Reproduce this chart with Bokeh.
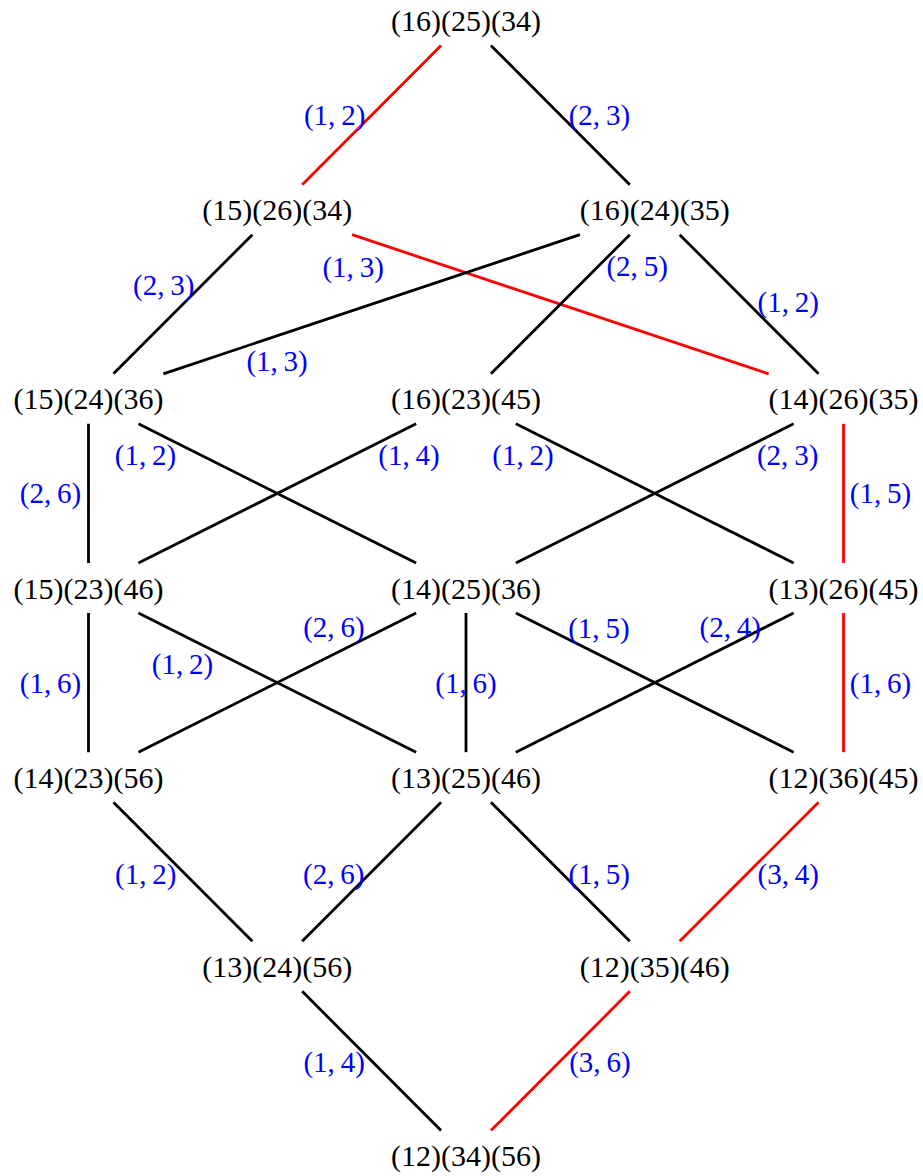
from bokeh.plotting import figure
from bokeh.models import Range1d, ColumnDataSource
from bokeh.core.properties import value
from bokeh.embed import file_html
from bokeh.resources import INLINE

# ---- data ----
node_names = ["(16)(25)(34)", "(15)(26)(34)", "(16)(24)(35)",
              "(15)(24)(36)", "(16)(23)(45)", "(14)(26)(35)",
              "(15)(23)(46)", "(14)(25)(36)", "(13)(26)(45)",
              "(14)(23)(56)", "(13)(25)(46)", "(12)(36)(45)",
              "(13)(24)(56)", "(12)(35)(46)", "(12)(34)(56)"]
node_col = [2, 1, 3, 0, 2, 4, 0, 2, 4, 0, 2, 4, 1, 3, 2]
node_row = [0, 1, 1, 2, 2, 2, 3, 3, 3, 4, 4, 4, 5, 5, 6]

edge_src = [0, 0, 1, 1, 2, 2, 2, 3, 3, 4, 4, 5, 5, 6, 6, 7, 7, 7, 8, 8, 9, 10, 10, 11, 12, 13]
edge_tgt = [1, 2, 3, 5, 3, 4, 5, 6, 7, 6, 8, 7, 8, 9, 10, 9, 10, 11, 10, 11, 12, 12, 13, 13, 14, 14]
edge_label = ["(1,\u20092)", "(2,\u20093)", "(2,\u20093)", "(1,\u20093)", "(1,\u20093)", "(2,\u20095)",
              "(1,\u20092)", "(2,\u20096)", "(1,\u20092)", "(1,\u20094)", "(1,\u20092)", "(2,\u20093)",
              "(1,\u20095)", "(1,\u20096)", "(1,\u20092)", "(2,\u20096)", "(1,\u20096)", "(1,\u20095)",
              "(2,\u20094)", "(1,\u20096)", "(1,\u20092)", "(2,\u20096)", "(1,\u20095)", "(3,\u20094)",
              "(1,\u20094)", "(3,\u20096)"]
edge_red = [1, 0, 0, 1, 0, 0, 0, 0, 0, 0, 0, 0, 1, 0, 0, 0, 0, 0, 0, 1, 0, 0, 0, 1, 0, 1]

# ---- label placement (fraction along edge, pixel offsets) ----
lab_pos = [0.5, 0.5, 0.4, 0.134, 0.667, 0.3, 0.49, 0.5, 0.151, 0.151, 0.151, 0.148, 0.5,
           0.5, 0.249, 0.35, 0.5, 0.352, 0.30, 0.5, 0.51, 0.51, 0.51, 0.51, 0.508, 0.508]
lab_dx = [-37, 39, -38, 0, 0, 39, 41, -38, 0, 0, 0, 0, 37,
          -38, 0, 0, 0, 0, 0, 37, -39, -36, 37, 41, -39, 41]
lab_dy = [0, 0, 0, 32, 25, 0, 0, 0, 28, 28, 28, 28, 0,
          0, 29, -27, 0, -27, -18, 0, 0, 0, 0, 0, 0, 0]

W, H = 923, 1176
XS, YS = 188.75, 189.17
X0, Y0 = 88, 20
SHRINK = 25 / YS

p = figure(width=W, height=H, output_backend="svg", toolbar_location=None,
           x_range=Range1d(-X0 / XS, (W - X0) / XS),
           y_range=Range1d((H - Y0) / YS, -Y0 / YS),
           min_border=0)
p.axis.visible = False
p.xgrid.visible = False
p.ygrid.visible = False
p.outline_line_color = None

x0s, y0s, x1s, y1s, cols = [], [], [], [], []
lx, ly = [], []
for i, (s, t) in enumerate(zip(edge_src, edge_tgt)):
    sx, sy = node_col[s], node_row[s]
    tx, ty = node_col[t], node_row[t]
    dx, dy = tx - sx, ty - sy
    f = SHRINK / abs(dy)
    x0s.append(sx + f * dx); y0s.append(sy + f * dy)
    x1s.append(tx - f * dx); y1s.append(ty - f * dy)
    cols.append("#ff0000" if edge_red[i] else "#000000")
    lx.append(sx + lab_pos[i] * dx)
    ly.append(sy + lab_pos[i] * dy)

p.segment(x0=x0s, y0=y0s, x1=x1s, y1=y1s, line_color=cols, line_width=2.8)

lsrc = ColumnDataSource(dict(x=lx, y=ly, text=edge_label, xo=lab_dx, yo=lab_dy))
p.text(x="x", y="y", text="text", x_offset="xo", y_offset="yo", source=lsrc,
       text_font=value("Liberation Serif"), text_font_size="29px",
       text_color="#0000ff", text_align="center", text_baseline="middle")

nsrc = ColumnDataSource(dict(x=node_col, y=node_row, text=node_names))
p.text(x="x", y="y", text="text", source=nsrc,
       text_font=value("Liberation Serif"), text_font_size="30px",
       text_color="#000000", text_align="center", text_baseline="middle")

open("out.html", "w").write(file_html(p, INLINE))
